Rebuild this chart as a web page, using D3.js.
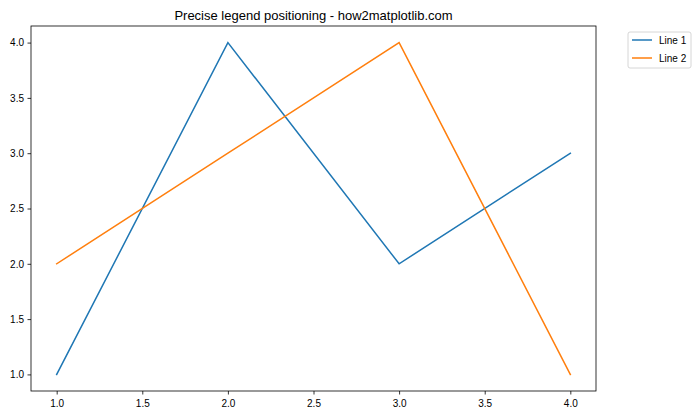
<!DOCTYPE html>
<html><head><meta charset="utf-8">
<script src="https://cdn.jsdelivr.net/npm/d3@7"></script>
<style>body{margin:0;background:#fff;} text{font-family:"Liberation Sans",Arial,sans-serif;}</style>
</head><body><svg id="c" width="700" height="420"></svg>
<script>
const xValues = [1, 2, 3, 4];
const line1 = [1, 4, 2, 3];
const line2 = [2, 3, 4, 1];
const seriesNames = ["Line 1", "Line 2"];
const colors = ["#1f77b4", "#ff7f0e"];
const xTicks = [1.0, 1.5, 2.0, 2.5, 3.0, 3.5, 4.0];
const yTicks = [1.0, 1.5, 2.0, 2.5, 3.0, 3.5, 4.0];
const title = "Precise legend positioning - how2matplotlib.com";

const svg = d3.select("#c");
const L = 31, R = 596, T = 26, B = 391;
const x = d3.scaleLinear().domain([0.85, 4.15]).range([L, R]);
const y = d3.scaleLinear().domain([0.85, 4.15]).range([B, T]);

const gx = svg.append("g").attr("transform", `translate(0,${B})`)
  .call(d3.axisBottom(x).tickValues(xTicks).tickFormat(d3.format(".1f")).tickSize(3.5).tickPadding(5));
const gy = svg.append("g").attr("transform", `translate(${L},0)`)
  .call(d3.axisLeft(y).tickValues(yTicks).tickFormat(d3.format(".1f")).tickSize(3.5).tickPadding(3.5));
[gx, gy].forEach(g => {
  g.select(".domain").remove();
  g.selectAll("line").attr("stroke", "#000").attr("stroke-width", 0.8);
  g.selectAll("text").attr("font-size", 10).attr("fill", "#000").attr("font-family", "Liberation Sans, Arial, sans-serif");
});

const data = [line1, line2];
const lineGen = d3.line().x((d, i) => x(xValues[i])).y(d => y(d));
data.forEach((s, k) => {
  svg.append("path").datum(s).attr("d", lineGen).attr("fill", "none")
    .attr("stroke", colors[k]).attr("stroke-width", 1.5).attr("stroke-linecap", "square");
});

svg.append("rect").attr("x", L).attr("y", T).attr("width", R - L).attr("height", B - T)
  .attr("fill", "none").attr("stroke", "#000").attr("stroke-width", 0.8);

svg.append("text").attr("x", (L + R) / 2).attr("y", 20).attr("text-anchor", "middle")
  .attr("font-size", 13).text(title);

const lg = svg.append("g").attr("transform", "translate(628,32)");
lg.append("rect").attr("width", 63).attr("height", 36).attr("rx", 2)
  .attr("fill", "#fff").attr("stroke", "#ccc").attr("stroke-width", 0.8);
seriesNames.forEach((n, k) => {
  const yy = 8 + k * 18;
  lg.append("line").attr("x1", 4).attr("x2", 24).attr("y1", yy).attr("y2", yy)
    .attr("stroke", colors[k]).attr("stroke-width", 1.5);
  lg.append("text").attr("x", 31).attr("y", yy + 3.5).attr("font-size", 10).text(n);
});
</script></body></html>
